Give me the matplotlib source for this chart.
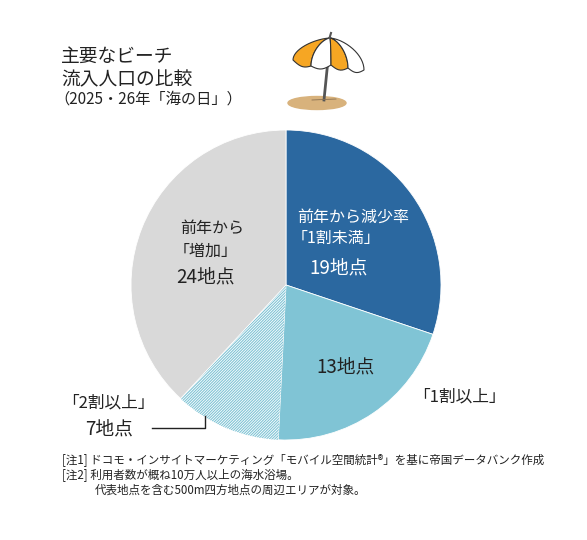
import numpy as np
import matplotlib
matplotlib.use("Agg")
import matplotlib.pyplot as plt
from matplotlib.patches import Polygon, Ellipse

plt.rcParams['font.family'] = ['Noto Sans CJK JP', 'DejaVu Sans']
plt.rcParams['hatch.linewidth'] = 0.8

# data
categories = ['前年から減少率「1割未満」', '「1割以上」', '「2割以上」', '前年から「増加」']
counts = [19, 13, 7, 24]
colors = ['#2b68a0', '#80c4d5', '#ffffff', '#d9d9d9']

W, H = 587, 540
fig = plt.figure(figsize=(W / 100, H / 100), dpi=100)

# pie axes: centre (286, 285) px, radius 155 px
cx, cy, r = 286, 285, 155
pax = fig.add_axes([(cx - r) / W, (H - cy - r) / H, 2 * r / W, 2 * r / H])
wedges, _ = pax.pie(counts, colors=colors, startangle=90, counterclock=False,
                    radius=1, wedgeprops=dict(linewidth=0.6, edgecolor='white'))
wedges[2].set_hatch('////////////')
wedges[2].set_edgecolor('#80c4d5')
wedges[2].set_linewidth(0)
pax.set_xlim(-1, 1)
pax.set_ylim(-1, 1)
pax.axis('off')

# overlay axes in pixel coordinates
ax = fig.add_axes([0, 0, 1, 1], zorder=5)
ax.set_xlim(0, W)
ax.set_ylim(H, 0)
ax.axis('off')
ax.patch.set_alpha(0)

dark = '#222222'

# title
ax.text(61, 56, '主要なビーチ', fontsize=13.5, va='center', ha='left', color=dark)
ax.text(61, 80, '流入人口の比較', fontsize=13.5, va='center', ha='left', color=dark)
ax.text(54, 99, '（2025・26年「海の日」）', fontsize=11, va='center', ha='left', color=dark)

# umbrella
ax.add_patch(Ellipse((317, 103), 58, 13, color='#d8b27c', zorder=1))
ax.plot([330, 324], [40, 100], color='#555555', lw=2, zorder=2)
ax.plot([312, 336], [100, 99], color='#8a7050', lw=0.6, zorder=2)
apex = np.array([330.0, 38.0])
rim = [(293, 60), (311, 66), (331, 65), (348, 68), (364, 70)]
panel_cols = ['#f6a623', '#ffffff', '#f6a623', '#ffffff']


def rib(p):
    s = np.linspace(0, 1, 16)
    x = apex[0] + (p[0] - apex[0]) * np.sin(s * np.pi / 2)
    y = apex[1] + (p[1] - apex[1]) * (1 - np.cos(s * np.pi / 2)) ** 0.8
    return np.column_stack([x, y])


for i in range(4):
    p0 = np.array(rim[i], float)
    p1 = np.array(rim[i + 1], float)
    t = np.linspace(0, 1, 10)
    scallop = np.array([p0 * (1 - s) + p1 * s + np.array([0, 3.5 * np.sin(np.pi * s)]) for s in t])
    pts = np.vstack([rib(p0), scallop, rib(p1)[::-1]])
    ax.add_patch(Polygon(pts, closed=True, facecolor=panel_cols[i],
                         edgecolor='#333333', lw=0.8, zorder=3))
ax.plot([329.5, 331], [38, 33], color='#555555', lw=1.5, zorder=4)

# labels inside the pie
ax.text(297, 217, '前年から減少率', fontsize=11.5, color='white', va='center')
ax.text(292, 238, '「1割未満」', fontsize=11.5, color='white', va='center')
ax.text(309, 268, '19地点', fontsize=13.5, color='white', va='center')

ax.text(316, 367, '13地点', fontsize=13.5, color=dark, va='center')
ax.text(413, 397, '「1割以上」', fontsize=12, color=dark, va='center')

ax.text(180, 228, '前年から', fontsize=11.5, color=dark, va='center')
ax.text(174, 251, '「増加」', fontsize=11.5, color=dark, va='center')
ax.text(176, 277, '24地点', fontsize=13.5, color=dark, va='center')

ax.text(62, 403, '「2割以上」', fontsize=12, color=dark, va='center')
ax.text(85, 429, '7地点', fontsize=13.5, color=dark, va='center')
ax.plot([152, 205, 205], [428, 428, 416], color=dark, lw=1)

# notes
ax.text(62, 460, '[注1] ドコモ・インサイトマーケティング「モバイル空間統計®」を基に帝国データバンク作成',
        fontsize=8.3, color=dark, va='center')
ax.text(62, 475, '[注2] 利用者数が概ね10万人以上の海水浴場。',
        fontsize=8.3, color=dark, va='center')
ax.text(95, 490, '代表地点を含む500m四方地点の周辺エリアが対象。',
        fontsize=8.3, color=dark, va='center')

fig.savefig('out.png', dpi=100, facecolor='white')
